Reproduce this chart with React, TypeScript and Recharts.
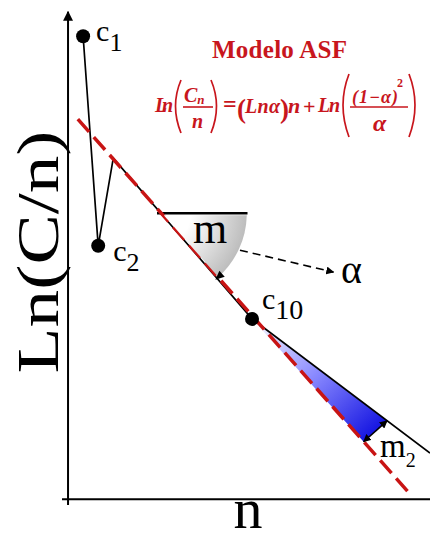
import React from 'react';
import {
  ComposedChart,
  Line,
  Area,
  Scatter,
  XAxis,
  YAxis,
} from 'recharts';

// curve of Ln(C/n) against n
const curveN = [1, 2, 3, 12.2, 24];
const curveLn = [9.5, 5.2, 7.0, 3.7, 0.95];

// ASF model straight line
const fitN = [0.65, 22.7];
const fitLn = [7.8, 0.1];

// labelled points C1, C2, C10
const pointSubs = ['1', '2', '10'];
const pointN = [1, 2, 12.2];
const pointLn = [9.5, 5.2, 3.7];

// horizontal reference for the slope angle m
const slopeRefN = [5.9, 11.9];
const slopeRefLn = [5.87, 5.87];
const angleVertexN = [6.15];
const angleVertexLn = [5.87];

// dashed arrow from m to alpha
const alphaArrowN = [11.4, 17.6];
const alphaArrowLn = [5.11, 4.66];

// deviation band m2 between curve and model
const bandN = [12.2, 19.6, 21.15];
const bandLow = [3.7, 1.18, 1.61];
const bandHigh = [3.7, 1.97, 1.61];

// axes
const yAxisN = [0, 0];
const yAxisLn = [-0.12, 10];
const xAxisN = [-0.4, 24];
const xAxisLn = [0, 0];

const zip = (ns: number[], vs: number[]) => ns.map((n, i) => ({ n, v: vs[i] }));

const curve = zip(curveN, curveLn);
const fit = zip(fitN, fitLn);
const points = pointN.map((n, i) => ({ n, v: pointLn[i], sub: pointSubs[i] }));
const slopeRef = zip(slopeRefN, slopeRefLn);
const angleVertex = zip(angleVertexN, angleVertexLn);
const alphaArrow = zip(alphaArrowN, alphaArrowLn);
const band = bandN.map((n, i) => ({ n, band: [bandLow[i], bandHigh[i]] }));
const m2Arrow = [
  { n: bandN[1], v: bandLow[1] },
  { n: bandN[2], v: bandLow[2] },
];
const yAxisLine = zip(yAxisN, yAxisLn);
const xAxisLine = zip(xAxisN, xAxisLn);

const RED = '#c8161d';
const SERIF = '"Liberation Serif", "DejaVu Serif", serif';

const labelStyle: Record<string, { dx: number; dy: number; size: number; sub: number }> = {
  '1': { dx: 13, dy: 5, size: 30, sub: 26 },
  '2': { dx: 15, dy: 15, size: 30, sub: 26 },
  '10': { dx: 10, dy: -10, size: 30, sub: 28 },
};

function PointMark(props: any) {
  const { cx, cy, payload } = props;
  const s = labelStyle[payload.sub];
  return (
    <g>
      <circle cx={cx} cy={cy} r={7} fill="#000" />
      <text x={cx + s.dx} y={cy + s.dy} fontFamily={SERIF} fontSize={s.size} fill="#000">
        c
        <tspan dy={10} fontSize={s.sub}>
          {payload.sub}
        </tspan>
      </text>
    </g>
  );
}

// filled angle between the horizontal and the curve
function AngleWedge(props: any) {
  const { cx, cy } = props;
  const r = 86;
  const a = (48 * Math.PI) / 180;
  const ex = cx + r * Math.cos(a);
  const ey = cy + r * Math.sin(a);
  const tx = -Math.sin(a);
  const ty = Math.cos(a);
  const nx = Math.cos(a);
  const ny = Math.sin(a);
  const tip = { x: ex + tx * 4, y: ey + ty * 4 };
  return (
    <g>
      <defs>
        <radialGradient id="angleGrad" gradientUnits="userSpaceOnUse" cx={cx} cy={cy} r={r}>
          <stop offset="0.35" stopColor="#ffffff" />
          <stop offset="1" stopColor="#bdbdbd" />
        </radialGradient>
      </defs>
      <path
        d={`M${cx + 3},${cy + 2} L${cx + r},${cy + 2} A${r},${r} 0 0 1 ${ex},${ey} Z`}
        fill="url(#angleGrad)"
      />
      <polygon
        points={`${tip.x},${tip.y} ${tip.x - tx * 9 + nx * 4},${tip.y - ty * 9 + ny * 4} ${tip.x - tx * 9 - nx * 4},${tip.y - ty * 9 - ny * 4}`}
        fill="#000"
      />
    </g>
  );
}

function Formula() {
  const p = { fill: RED, fontFamily: SERIF, fontWeight: 'bold' as const };
  const it = { ...p, fontStyle: 'italic' as const };
  const paren = { stroke: RED, strokeWidth: 1.7, fill: 'none' };
  return (
    <svg
      width={430}
      height={542}
      style={{ position: 'absolute', left: 0, top: 0, pointerEvents: 'none' }}
    >
      <text x={212} y={58} fontSize={25} textLength={135} {...p}>
        Modelo ASF
      </text>

      {/* Ln(Cn/n) = (Ln α) n + Ln((1-α)^2/α) */}
      <text x={155} y={112} fontSize={20} textLength={18} {...it}>
        Ln
      </text>
      <path d="M181,80 Q170,106 181,133" {...paren} />
      <text x={184} y={102} fontSize={20} {...it}>
        C
        <tspan fontSize={13} dy={2}>
          n
        </tspan>
      </text>
      <line x1={183} x2={213} y1={107} y2={107} stroke={RED} strokeWidth={1.6} />
      <text x={192} y={128} fontSize={20} {...it}>
        n
      </text>
      <path d="M211,80 Q222,106 211,133" {...paren} />
      <text x={223} y={112} fontSize={24} {...p}>
        =
      </text>
      <text x={237} y={118} fontSize={27} {...p}>
        (
      </text>
      <text x={245} y={113} fontSize={20} textLength={35} {...it}>
        Lnα
      </text>
      <text x={280} y={118} fontSize={27} {...p}>
        )
      </text>
      <text x={288} y={113} fontSize={22} textLength={14} {...it}>
        n
      </text>
      <text x={303} y={114} fontSize={22} {...p}>
        +
      </text>
      <text x={318} y={112} fontSize={20} textLength={22} {...it}>
        Ln
      </text>
      <path d="M349,74 Q337,105 349,137" {...paren} />
      <text x={352} y={103} fontSize={18} textLength={46} {...it}>
        (1−α)
      </text>
      <text x={397} y={87} fontSize={12} {...p}>
        2
      </text>
      <line x1={350} x2={408} y1={107} y2={107} stroke={RED} strokeWidth={1.6} />
      <text x={373} y={131} fontSize={24} {...it}>
        α
      </text>
      <path d="M409,74 Q421,105 409,137" {...paren} />

      {/* axis titles */}
      <text
        transform="translate(58,252) rotate(-90)"
        textAnchor="middle"
        fontFamily={SERIF}
        fontSize={60}
        textLength={243}
        lengthAdjust="spacingAndGlyphs"
      >
        Ln(C/n)
      </text>
      <text x={248} y={528} textAnchor="middle" fontFamily={SERIF} fontSize={58}>
        n
      </text>

      {/* annotations */}
      <text x={210} y={243} textAnchor="middle" fontFamily={SERIF} fontSize={44}>
        m
      </text>
      <text x={341} y={283} fontFamily={SERIF} fontSize={40}>
        α
      </text>
      <text x={380} y={457} fontFamily={SERIF} fontSize={33}>
        m
        <tspan fontSize={20} dy={10}>
          2
        </tspan>
      </text>
    </svg>
  );
}

export default function App() {
  return (
    <div style={{ position: 'absolute', left: 0, top: 0, width: 430, height: 542, background: '#fff' }}>
      <ComposedChart
        width={430}
        height={542}
        margin={{ top: 7, right: 0, bottom: 33, left: 62 }}
      >
        <defs>
          <linearGradient id="bandGrad" x1="0" y1="0" x2="1" y2="1">
            <stop offset="0" stopColor="#ffffff" />
            <stop offset="0.45" stopColor="#8c8cff" />
            <stop offset="1" stopColor="#0000dc" />
          </linearGradient>
          <marker id="arrowHead" viewBox="0 0 10 10" refX="9" refY="5" markerWidth="5" markerHeight="5" orient="auto-start-reverse">
            <path d="M0,0 L10,5 L0,10 Z" fill="#000" />
          </marker>
        </defs>
        <XAxis type="number" dataKey="n" domain={[-0.4, 24]} allowDataOverflow hide />
        <YAxis type="number" dataKey="v" domain={[-0.2, 10.1]} allowDataOverflow hide />

        <Scatter data={angleVertex} dataKey="v" shape={AngleWedge} isAnimationActive={false} />
        <Area
          data={band}
          dataKey="band"
          type="linear"
          fill="url(#bandGrad)"
          fillOpacity={1}
          stroke="none"
          isAnimationActive={false}
          dot={false}
          activeDot={false}
        />

        <Line data={yAxisLine} dataKey="v" type="linear" stroke="#000" strokeWidth={2} dot={false} activeDot={false} markerEnd="url(#arrowHead)" isAnimationActive={false} />
        <Line data={xAxisLine} dataKey="v" type="linear" stroke="#000" strokeWidth={2} dot={false} activeDot={false} isAnimationActive={false} />

        <Line data={slopeRef} dataKey="v" type="linear" stroke="#000" strokeWidth={2.5} dot={false} activeDot={false} isAnimationActive={false} />
        <Line data={curve} dataKey="v" type="linear" stroke="#000" strokeWidth={1.7} dot={false} activeDot={false} isAnimationActive={false} />
        <Line data={fit} dataKey="v" type="linear" stroke="#c81414" strokeWidth={3.5} strokeDasharray="17 7" dot={false} activeDot={false} isAnimationActive={false} />
        <Line data={alphaArrow} dataKey="v" type="linear" stroke="#000" strokeWidth={1.6} strokeDasharray="8 5" dot={false} activeDot={false} markerEnd="url(#arrowHead)" isAnimationActive={false} />
        <Line data={m2Arrow} dataKey="v" type="linear" stroke="#000" strokeWidth={1.6} dot={false} activeDot={false} markerStart="url(#arrowHead)" markerEnd="url(#arrowHead)" isAnimationActive={false} />

        <Scatter data={points} dataKey="v" shape={PointMark} isAnimationActive={false} />
      </ComposedChart>
      <Formula />
    </div>
  );
}
